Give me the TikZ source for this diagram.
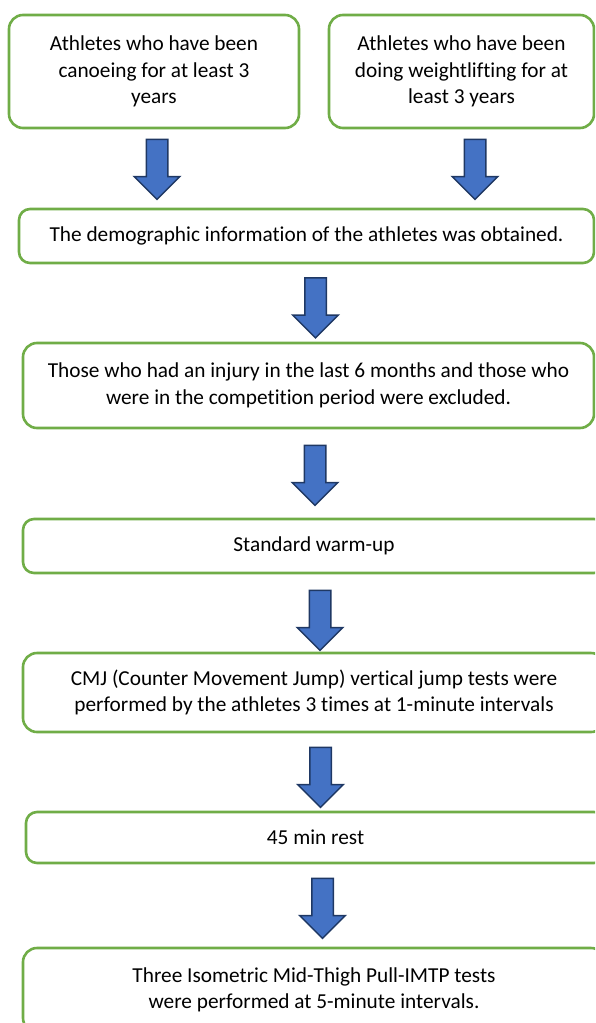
\documentclass[tikz,border=0pt]{standalone}
\usepackage{fontspec}
\setmainfont{Carlito}[Ligatures=NoCommon]
\usetikzlibrary{shapes.arrows, positioning}
\definecolor{boxgreen}{RGB}{112, 173, 71}
\definecolor{arrowblue}{RGB}{68, 114, 196}
\definecolor{arrownavy}{RGB}{31, 56, 100}

\begin{document}
\begin{tikzpicture}[
    x=1pt, y=-1pt,
    stepbox/.style={rectangle, rounded corners=14pt, draw=boxgreen, line width=2.6pt, fill=white, align=center, font=\fontsize{21.3}{26.5}\selectfont, inner sep=0pt},
    flatbox/.style={stepbox, rounded corners=11pt},
    downarr/.style={single arrow, shape border rotate=270, draw=arrownavy, fill=arrowblue, line width=1.5pt, inner sep=10pt, single arrow head extend=12pt, single arrow head indent=0pt, minimum height=60pt},
]
\useasboundingbox (0,0) rectangle (595,1023);
\clip (0,0) rectangle (595,1023);

% top row
\node[stepbox, minimum width=290pt, minimum height=113pt] (canoe) at (154,71.5) {Athletes who have been\\canoeing for at least 3\\years};
\node[stepbox, minimum width=265pt, minimum height=113pt] (weight) at (461.5,71.5) {Athletes who have been\\doing weightlifting for at\\least 3 years};

% main column
\node[flatbox, minimum width=575pt, minimum height=54pt] (demo) at (306.5,236) {The demographic information of the athletes was obtained.};
\node[stepbox, minimum width=571pt, minimum height=85pt] (excl) at (308.5,385.5) {Those who had an injury in the last 6 months and those who\\were in the competition period were excluded.};
\node[flatbox, minimum width=582pt, minimum height=54pt] (warm) at (314,546) {Standard warm-up};
\node[stepbox, minimum width=582pt, minimum height=79pt] (cmj) at (314,692.5) {CMJ (Counter Movement Jump) vertical jump tests were\\performed by the athletes 3 times at 1-minute intervals};
\node[flatbox, minimum width=579pt, minimum height=51pt] (rest) at (315.5,837.5) {45 min rest};
\node[stepbox, minimum width=582pt, minimum height=84pt] (imtp) at (314,990) {Three Isometric Mid-Thigh Pull-IMTP tests\\were performed at 5-minute intervals.};

% block arrows
\node[downarr] (a1) at (157,164) {};
\node[downarr] (a2) at (475,164) {};
\node[downarr] (a3) at (315.5,302.5) {};
\node[downarr] (a4) at (315,470) {};
\node[downarr] (a5) at (320,615) {};
\node[downarr] (a6) at (320.5,772) {};
\node[downarr] (a7) at (322.5,903) {};

\end{tikzpicture}
\end{document}
